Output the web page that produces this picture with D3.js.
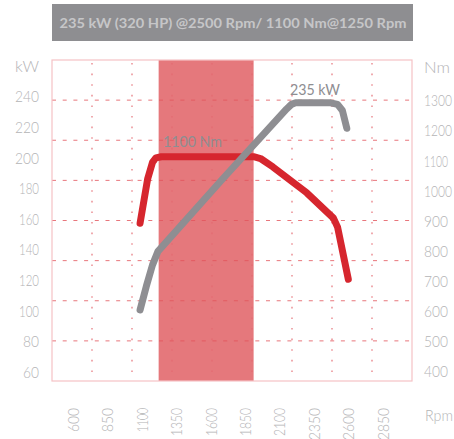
<!DOCTYPE html>
<html>
<head>
<meta charset="utf-8">
<script src="https://cdn.jsdelivr.net/npm/d3@7"></script>
<style>
  body { margin: 0; background: #fff; }
  svg { display: block; }
</style>
</head>
<body>
<svg id="chart" width="454" height="439"></svg>
<script>
// Données
const titre = "235 kW (320 HP) @2500 Rpm/ 1100 Nm@1250 Rpm"
const rpmTicks = [600, 850, 1100, 1350, 1600, 1850, 2100, 2350, 2600, 2850]
const kwTicks = [60, 80, 100, 120, 140, 160, 180, 200, 220, 240]
const nmTicks = [400, 500, 600, 700, 800, 900, 1000, 1100, 1200, 1300]
const bande = [1220, 1910]

const rpmCouple = [1085, 1140, 1175, 1200, 1240, 1910, 1960, 2050, 2296, 2490, 2520, 2598]
const nmCouple = [893, 1040, 1095, 1110, 1114, 1114, 1108, 1080, 994, 910, 880, 707]

const rpmPuiss = [1085, 1130, 1175, 1215, 1678, 2150, 2185, 2215, 2470, 2520, 2555, 2587]
const kwPuiss = [100.7, 116, 130, 139, 185.6, 232, 235, 236, 236, 235, 231, 219.4]

const fond = { left: 52, right: 412, top: 60, bottom: 381 }
const rouge = "#d6262e"
const gris = "#8e8e92"
const police = "Lato, 'Open Sans', sans-serif"

const svg = d3.select("#chart")

// echelles (alignées sur les libellés)
const x = d3.scaleLinear().domain([600, 2850]).range([73.3, 383])
const yKw = d3.scaleLinear().domain([60, 240]).range([372.3, 96.7])
const yNm = d3.scaleLinear().domain([400, 1300]).range([371.7, 100.7])

// largeur des chiffres façon Gill Sans : le "1" est étroit
const largeur = t => String(t).split("").reduce((s, c) => s + (c === "1" ? 4 : 8), 0)

// bandeau titre
svg.append("rect").attr("x", 52).attr("y", 4).attr("width", 361).attr("height", 37).attr("fill", "#8e8e91")
svg.append("text").attr("x", 59.5).attr("y", 27.5)
  .attr("textLength", 347).attr("lengthAdjust", "spacingAndGlyphs")
  .style("font", `bold 14px ${police}`).attr("fill", "#c6c6c8").text(titre)

// zone rouge
svg.append("rect")
  .attr("x", x(bande[0])).attr("y", fond.top)
  .attr("width", x(bande[1]) - x(bande[0])).attr("height", fond.bottom - fond.top)
  .attr("fill", "#e5787c")

// grille
const pasX = (fond.right - fond.left) / 9
const pasY = (fond.bottom - fond.top) / 8
svg.append("g").selectAll("line").data(d3.range(1, 9)).join("line")
  .attr("x1", d => fond.left + d * pasX).attr("x2", d => fond.left + d * pasX)
  .attr("y1", fond.top + 3).attr("y2", fond.bottom)
  .attr("stroke", "#e46a70").attr("stroke-width", 1.6).attr("stroke-opacity", 0.7)
  .attr("stroke-dasharray", "1.6,9")
svg.append("g").selectAll("line").data(d3.range(1, 8)).join("line")
  .attr("x1", fond.left).attr("x2", fond.right)
  .attr("y1", d => fond.top + d * pasY).attr("y2", d => fond.top + d * pasY)
  .attr("stroke", "#e2545b").attr("stroke-width", 1).attr("stroke-opacity", 0.8)
  .attr("stroke-dasharray", "4,6.7")

// cadre
svg.append("rect").attr("x", fond.left).attr("y", fond.top)
  .attr("width", fond.right - fond.left).attr("height", fond.bottom - fond.top)
  .attr("fill", "none").attr("stroke", "#f5c2c5").attr("stroke-width", 1.2)

// courbes
const ligneNm = d3.line().x(d => x(d[0])).y(d => yNm(d[1])).curve(d3.curveLinear)
const ligneKw = d3.line().x(d => x(d[0])).y(d => yKw(d[1])).curve(d3.curveLinear)

svg.append("path").datum(d3.zip(rpmCouple, nmCouple)).attr("d", ligneNm)
  .attr("fill", "none").attr("stroke", rouge).attr("stroke-width", 7)
  .attr("stroke-linecap", "round").attr("stroke-linejoin", "round")

svg.append("path").datum(d3.zip(rpmPuiss, kwPuiss)).attr("d", ligneKw)
  .attr("fill", "none").attr("stroke", gris).attr("stroke-width", 7)
  .attr("stroke-linecap", "round").attr("stroke-linejoin", "round")

// étiquettes des courbes
svg.append("text").attr("x", 163).attr("y", 146.5).attr("fill", gris)
  .attr("textLength", 59).attr("lengthAdjust", "spacingAndGlyphs")
  .style("font", `15px ${police}`).text("1100 Nm")
svg.append("text").attr("x", 290).attr("y", 94.5).attr("fill", gris)
  .attr("textLength", 50).attr("lengthAdjust", "spacingAndGlyphs")
  .style("font", `15px ${police}`).text("235 kW")

// axes
const styleAxe = `300 16px ${police}`
const couleurAxe = "#b4b4b6"

svg.append("g").selectAll("text").data(kwTicks).join("text")
  .attr("x", 39).attr("y", d => yKw(d)).attr("dy", "0.35em")
  .attr("text-anchor", "end").attr("fill", couleurAxe).style("font", styleAxe)
  .attr("textLength", d => largeur(d)).attr("lengthAdjust", "spacingAndGlyphs")
  .text(d => d)
svg.append("text").attr("x", 39).attr("y", 66).attr("dy", "0.35em")
  .attr("text-anchor", "end").attr("fill", couleurAxe).style("font", styleAxe)
  .attr("textLength", 24).attr("lengthAdjust", "spacingAndGlyphs").text("kW")

svg.append("g").selectAll("text").data(nmTicks).join("text")
  .attr("x", 424).attr("y", d => yNm(d)).attr("dy", "0.35em")
  .attr("fill", couleurAxe).style("font", styleAxe)
  .attr("textLength", d => largeur(d)).attr("lengthAdjust", "spacingAndGlyphs")
  .text(d => d)
svg.append("text").attr("x", 424).attr("y", 67).attr("dy", "0.35em")
  .attr("fill", couleurAxe).style("font", styleAxe)
  .attr("textLength", 26).attr("lengthAdjust", "spacingAndGlyphs").text("Nm")

svg.append("g").selectAll("text").data(rpmTicks).join("text")
  .attr("transform", d => `translate(${x(d)},408) rotate(-90)`)
  .attr("dy", "0.35em").attr("text-anchor", "end")
  .attr("fill", couleurAxe).style("font", styleAxe)
  .attr("textLength", d => largeur(d)).attr("lengthAdjust", "spacingAndGlyphs")
  .text(d => d)
svg.append("text").attr("x", 425).attr("y", 415).attr("dy", "0.35em")
  .attr("fill", couleurAxe).style("font", styleAxe)
  .attr("textLength", 28).attr("lengthAdjust", "spacingAndGlyphs").text("Rpm")
</script>
</body>
</html>
